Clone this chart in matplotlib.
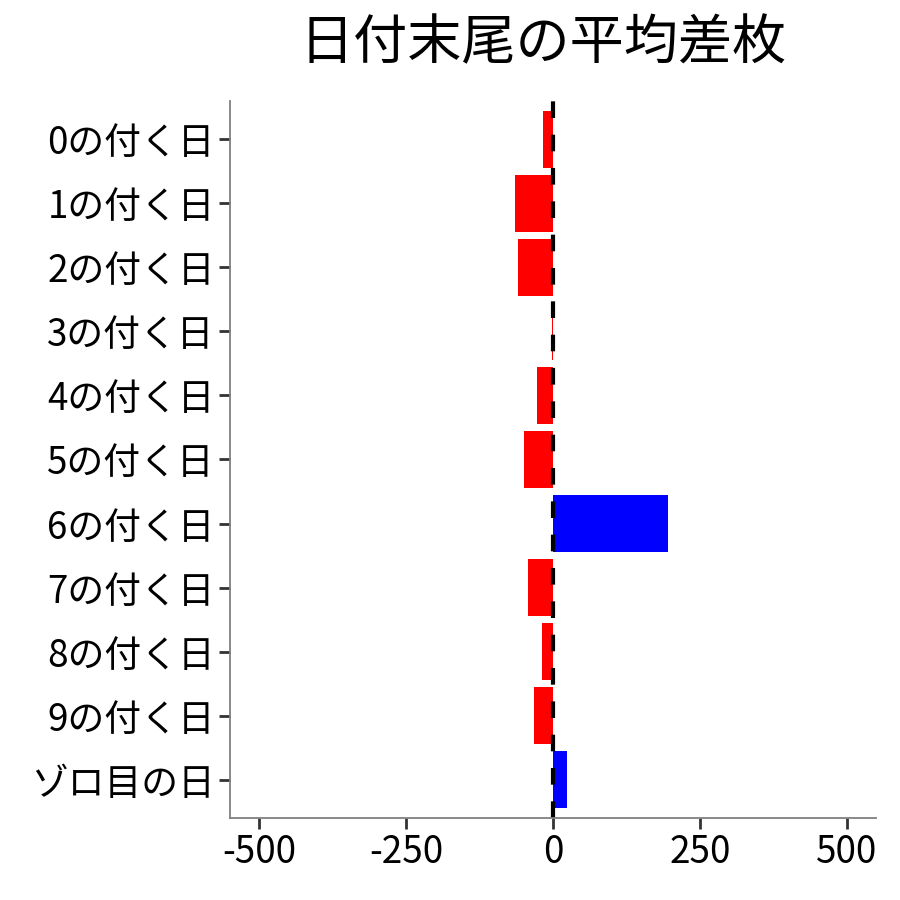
import matplotlib
matplotlib.use("Agg")
import matplotlib.pyplot as plt

plt.rcParams['font.family'] = ['Noto Sans CJK JP', 'DejaVu Sans']

# data
labels = ['0の付く日', '1の付く日', '2の付く日', '3の付く日', '4の付く日',
          '5の付く日', '6の付く日', '7の付く日', '8の付く日', '9の付く日', 'ゾロ目の日']
diffs = [-17, -65, -60, -2, -27, -50, 195, -42, -18, -33, 23]
ticks = [-500, -250, 0, 250, 500]

colors = ['blue' if v > 0 else 'red' for v in diffs]

fig = plt.figure(figsize=(9, 9), dpi=100)
ax = fig.add_axes([0.2556, 0.0911, 0.7178, 0.7967])

pos = list(range(len(labels)))
ax.barh(pos, diffs, height=0.9, color=colors)
ax.axvline(0, color='black', linewidth=3, linestyle=(0, (4, 4)))

ax.set_xlim(-550, 550)
ax.set_ylim(len(labels) - 0.4, -0.6)
ax.set_yticks(pos)
ax.set_yticklabels(labels)
ax.set_xticks(ticks)
ax.set_xticklabels([str(t) for t in ticks])
ax.tick_params(axis='both', labelsize=26.5, colors='#333333', labelcolor='black',
               length=8, width=2, pad=3)

for side in ['top', 'right']:
    ax.spines[side].set_visible(False)
for side in ['left', 'bottom']:
    ax.spines[side].set_color('#808080')
    ax.spines[side].set_linewidth(1.3)

fig.text(0.603, 0.951, '日付末尾の平均差枚', ha='center', va='center', fontsize=39)

fig.savefig('out.png', dpi=100)
